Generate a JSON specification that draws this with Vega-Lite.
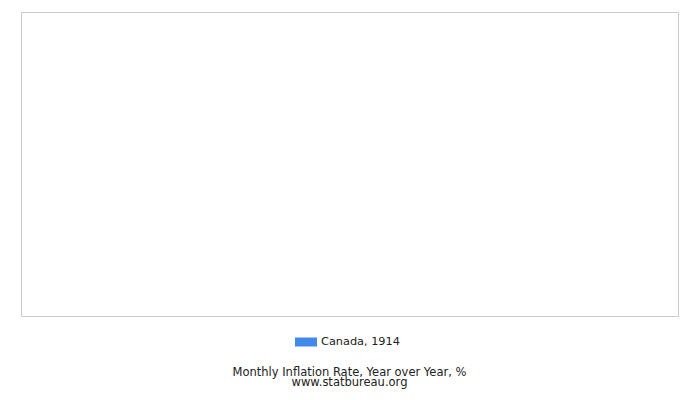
{
  "$schema": "https://vega.github.io/schema/vega-lite/v6.json",
  "width": 657,
  "height": 304,
  "autosize": "none",
  "padding": {"left": 21, "top": 12, "right": 22, "bottom": 84},
  "config": {
    "font": "DejaVu Sans",
    "view": {"stroke": "#cccccc", "strokeWidth": 1}
  },
  "data": {
    "values": [
      {"month": "January", "series": "Canada, 1914", "value": null},
      {"month": "February", "series": "Canada, 1914", "value": null},
      {"month": "March", "series": "Canada, 1914", "value": null},
      {"month": "April", "series": "Canada, 1914", "value": null},
      {"month": "May", "series": "Canada, 1914", "value": null},
      {"month": "June", "series": "Canada, 1914", "value": null},
      {"month": "July", "series": "Canada, 1914", "value": null},
      {"month": "August", "series": "Canada, 1914", "value": null},
      {"month": "September", "series": "Canada, 1914", "value": null},
      {"month": "October", "series": "Canada, 1914", "value": null},
      {"month": "November", "series": "Canada, 1914", "value": null},
      {"month": "December", "series": "Canada, 1914", "value": null}
    ]
  },
  "mark": "bar",
  "encoding": {
    "x": {"field": "month", "type": "ordinal", "sort": null, "axis": null},
    "y": {"field": "value", "type": "quantitative", "axis": null, "scale": {"domain": [0, 1]}},
    "color": {
      "field": "series",
      "type": "nominal",
      "scale": {"domain": ["Canada, 1914"], "range": ["#4289ec"]},
      "legend": {
        "orient": "none",
        "legendX": 274,
        "legendY": 319,
        "direction": "horizontal",
        "title": null,
        "symbolType": "M-1,-0.41H1V0.41H-1Z",
        "symbolSize": 484,
        "symbolStrokeWidth": 0,
        "labelFont": "DejaVu Sans",
        "labelFontSize": 11.3,
        "labelColor": "#222222",
        "labelOffset": 4
      }
    }
  },
  "title": {
    "text": "Monthly Inflation Rate, Year over Year, %",
    "subtitle": "www.statbureau.org",
    "orient": "bottom",
    "anchor": "middle",
    "font": "DejaVu Sans",
    "fontSize": 11.5,
    "fontWeight": "normal",
    "color": "#222222",
    "subtitleFont": "DejaVu Sans",
    "subtitleFontSize": 11.5,
    "subtitleColor": "#222222",
    "subtitlePadding": -2,
    "offset": 19
  }
}
